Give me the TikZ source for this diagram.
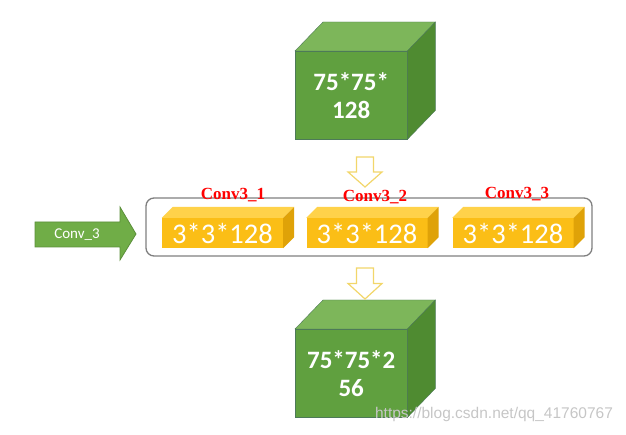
\documentclass[tikz,border=0pt]{standalone}
\usepackage{fontspec}
\setmainfont{Carlito}
\newfontfamily\labfont{Liberation Serif}
\newfontfamily\markfont{Liberation Sans}
\usetikzlibrary{positioning,calc}
\definecolor{GFront}{HTML}{60A03F}
\definecolor{GTop}{HTML}{7DB65A}
\definecolor{GSide}{HTML}{4F8B31}
\definecolor{GEdge}{HTML}{4D7A58}
\definecolor{YFront}{HTML}{FBBE16}
\definecolor{YTop}{HTML}{FFD24A}
\definecolor{YSide}{HTML}{DFA208}
\definecolor{YLine}{HTML}{F2D66A}
\definecolor{AGreen}{HTML}{70AD47}
\definecolor{AEdge}{HTML}{5B8F3A}
\definecolor{FrameGray}{HTML}{7F7F7F}
\begin{document}
\begin{tikzpicture}[x=1pt,y=-1pt,
  cube/.style={draw=GEdge,fill=GFront,minimum width=112pt,minimum height=88pt,
    inner sep=0pt,anchor=north west,align=center,text=white,
    font=\fontsize{25}{28}\selectfont\bfseries},
  ctop/.style={draw=GEdge,fill=GTop},
  cside/.style={draw=GEdge,fill=GSide},
  kern/.style={fill=YFront,minimum width=121pt,minimum height=30pt,inner sep=0pt,
    text=white,font=\fontsize{28.5}{30}\selectfont},
  ktop/.style={fill=YTop},
  kside/.style={fill=YSide},
  lab/.style={text=red,font=\labfont\fontsize{17}{20}\selectfont\bfseries},
  group/.style={draw=FrameGray,line width=1.3pt,rounded corners=8pt,
    minimum width=446pt,minimum height=58pt},
  hollow/.style={draw=YLine,fill=white,line width=1.2pt},
  feed/.style={draw=AEdge,fill=AGreen,line width=0.8pt},
  feedtext/.style={text=white,font=\fontsize{15}{16}\selectfont},
  wmark/.style={text=gray!45,font=\markfont\fontsize{15.5}{16}\selectfont}
]
  \useasboundingbox (0,0) rectangle (626,435);
  % input and output cubes
  \node[cube] (cin) at (295,51) {75*75*\\128};
  \node[cube] (cout) at (295,329) {75*75*2\\56};
  \foreach \c in {cin,cout}
  {
    \filldraw[ctop] (\c.north west) -- ++(28,-29) -- ($(\c.north east)+(28,-29)$)
      -- (\c.north east) -- cycle;
    \filldraw[cside] (\c.north east) -- ++(28,-29) -- ($(\c.south east)+(28,-29)$)
      -- (\c.south east) -- cycle;
  }
  % conv block
  \node[group] (frame) at (369,227) {};
  \node[kern] (k1) at (222.5,233) {3*3*128};
  \node[kern] (k2) at (367,233) {3*3*128};
  \node[kern] (k3) at (513,233) {3*3*128};
  \foreach \b in {k1,k2,k3}
  {
    \fill[ktop] (\b.north west) -- ++(11,-11) -- ($(\b.north east)+(11,-11)$)
      -- (\b.north east) -- cycle;
    \fill[kside] (\b.north east) -- ++(11,-11) -- ($(\b.south east)+(11,-11)$)
      -- (\b.south east) -- cycle;
  }
  \node[lab] (l1) at (233,195) {Conv3\_1};
  \node[lab] (l2) at (375,197) {Conv3\_2};
  \node[lab] (l3) at (517,194) {Conv3\_3};
  % hollow down arrows
  \foreach \t/\h in {157/30,268/31}
    {\draw[hollow] (356.5,\t) -- (373.5,\t) -- (373.5,\t+\h/2) -- (382,\t+\h/2)
      -- (365,\t+\h) -- (348,\t+\h/2) -- (356.5,\t+\h/2) -- cycle;}
  % input arrow
  \draw[feed] (35,222) -- (120,222) -- (120,207) -- (136,234) -- (120,260)
    -- (120,247) -- (35,247) -- cycle;
  \node[feedtext] (in) at (77,234.5) {Conv\_3};
  \node[wmark] (wm) at (494,414) {https://blog.csdn.net/qq\_41760767};
\end{tikzpicture}
\end{document}
